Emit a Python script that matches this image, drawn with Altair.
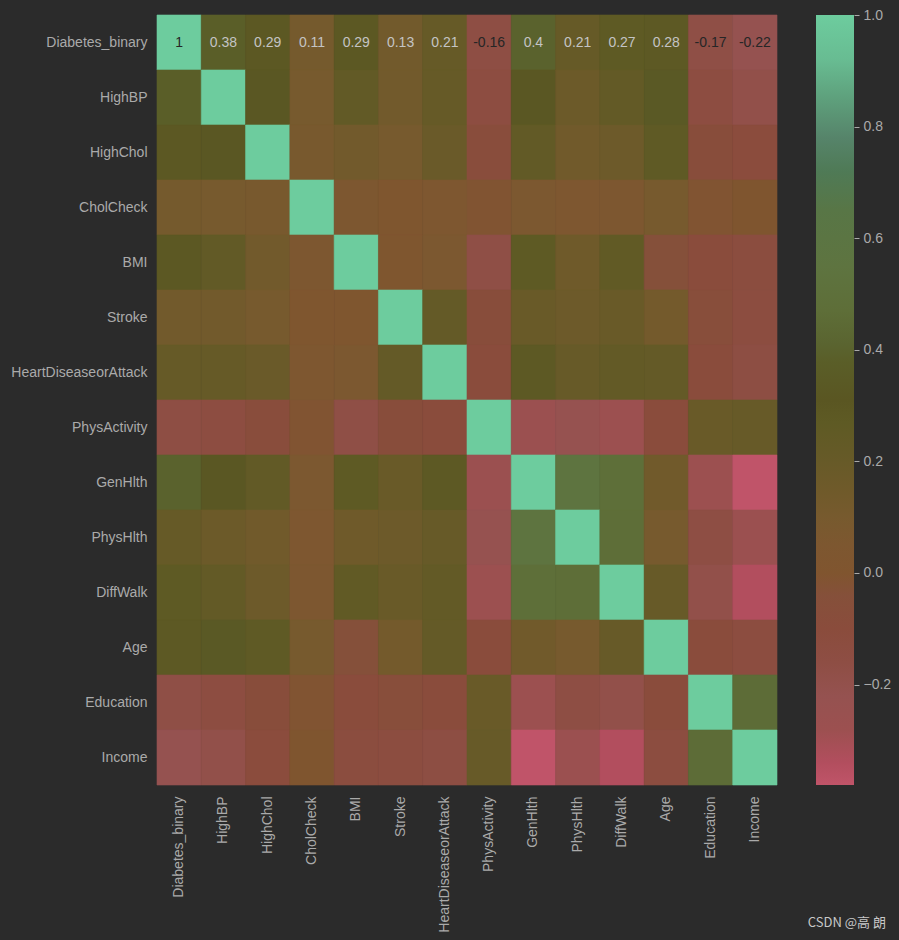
import altair as alt
import pandas as pd

names = ["Diabetes_binary", "HighBP", "HighChol", "CholCheck", "BMI", "Stroke",
         "HeartDiseaseorAttack", "PhysActivity", "GenHlth", "PhysHlth", "DiffWalk",
         "Age", "Education", "Income"]

corr_rows = [
    [1.00, 0.38, 0.29, 0.11, 0.29, 0.13, 0.21, -0.16, 0.40, 0.21, 0.27, 0.28, -0.17, -0.22],
    [0.38, 1.00, 0.32, 0.10, 0.24, 0.13, 0.21, -0.14, 0.32, 0.17, 0.23, 0.34, -0.14, -0.19],
    [0.29, 0.32, 1.00, 0.09, 0.13, 0.10, 0.18, -0.09, 0.24, 0.14, 0.16, 0.26, -0.08, -0.11],
    [0.11, 0.10, 0.09, 1.00, 0.05, 0.02, 0.04, -0.01, 0.06, 0.04, 0.05, 0.10, -0.01, 0.01],
    [0.29, 0.24, 0.13, 0.05, 1.00, 0.02, 0.06, -0.17, 0.27, 0.15, 0.25, -0.04, -0.10, -0.12],
    [0.13, 0.13, 0.10, 0.02, 0.02, 1.00, 0.22, -0.08, 0.19, 0.16, 0.19, 0.12, -0.07, -0.13],
    [0.21, 0.21, 0.18, 0.04, 0.06, 0.22, 1.00, -0.10, 0.28, 0.20, 0.23, 0.22, -0.10, -0.15],
    [-0.16, -0.14, -0.09, -0.01, -0.17, -0.08, -0.10, 1.00, -0.27, -0.23, -0.28, -0.10, 0.19, 0.20],
    [0.40, 0.32, 0.24, 0.06, 0.27, 0.19, 0.28, -0.27, 1.00, 0.55, 0.48, 0.14, -0.28, -0.38],
    [0.21, 0.17, 0.14, 0.04, 0.15, 0.16, 0.20, -0.23, 0.55, 1.00, 0.47, 0.10, -0.16, -0.27],
    [0.27, 0.23, 0.16, 0.05, 0.25, 0.19, 0.23, -0.28, 0.48, 0.47, 1.00, 0.20, -0.19, -0.34],
    [0.28, 0.34, 0.26, 0.10, -0.04, 0.12, 0.22, -0.10, 0.14, 0.10, 0.20, 1.00, -0.10, -0.13],
    [-0.17, -0.14, -0.08, -0.01, -0.10, -0.07, -0.10, 0.19, -0.28, -0.16, -0.19, -0.10, 1.00, 0.46],
    [-0.22, -0.19, -0.11, 0.01, -0.12, -0.13, -0.15, 0.20, -0.38, -0.27, -0.34, -0.13, 0.46, 1.00],
]

# colormap stops (value -> colour), first value replaced by data minimum
stop_values = [None, -0.34, -0.28, -0.22, -0.16, -0.10, -0.04, 0.00, 0.05, 0.10, 0.15,
               0.20, 0.27, 0.31, 0.38, 0.41, 0.47, 0.55, 0.65, 0.72, 0.78, 0.85, 0.92, 1.00]
stop_colors = ["#c05469", "#b24e5e", "#9c5050", "#955250", "#8e4e44", "#8a4c3c", "#85503a",
               "#80552f", "#7d5730", "#775a2e", "#6f5a2a", "#675a28", "#5e5a24", "#5a5622",
               "#5a5e28", "#5a6430", "#5e6e38", "#5e7440", "#587646", "#4f7a56", "#56846a",
               "#5ea07c", "#68bc92", "#6dcc9e"]

cbar_ticks = [-0.2, 0.0, 0.2, 0.4, 0.6, 0.8, 1.0]
watermark = "CSDN @高 朗"

BG = "#2b2b2b"
LABEL = "#aaaaaa"
FONT = "Liberation Sans"

vmin = min(min(r) for r in corr_rows)
vmax = 1.0
stop_values[0] = vmin

records = []
for i, rn in enumerate(names):
    for j, cn in enumerate(names):
        v = corr_rows[i][j]
        records.append({"row": rn, "col": cn, "value": v, "label": f"{v:.2g}"})
df = pd.DataFrame(records)

color_scale = alt.Scale(domain=stop_values, range=stop_colors, interpolate="rgb")

base = alt.Chart(df)
heat = base.mark_rect(strokeWidth=0.6).encode(
    x=alt.X("col:N", sort=names, scale=alt.Scale(paddingInner=0, paddingOuter=0),
            axis=alt.Axis(title=None, labelAngle=-90, ticks=False, domain=False,
                          labelPadding=11, labelColor=LABEL, labelFontSize=14, labelFont=FONT)),
    y=alt.Y("row:N", sort=names, scale=alt.Scale(paddingInner=0, paddingOuter=0),
            axis=alt.Axis(title=None, ticks=False, domain=False, labelPadding=10,
                          labelColor=LABEL, labelFontSize=14, labelFont=FONT)),
    color=alt.Color("value:Q", scale=color_scale, legend=None),
    stroke=alt.Stroke("value:Q", scale=color_scale, legend=None),
)
annot = base.transform_filter(alt.datum.row == names[0]).mark_text(
    fontSize=14, font=FONT
).encode(
    x=alt.X("col:N", sort=names),
    y=alt.Y("row:N", sort=names),
    text="label:N",
    color=alt.condition("datum.value >= 0.9 || datum.value < 0",
                        alt.value("#262626"), alt.value("#c4c4c4")),
)
heatmap = alt.layer(heat, annot).properties(width=620, height=770)

span = vmax - vmin
gradient = alt.Gradient(
    gradient="linear",
    stops=[alt.GradientStop(color=c, offset=(v - vmin) / span)
           for v, c in zip(stop_values, stop_colors)],
    x1=0, x2=0, y1=1, y2=0,
)
cb_df = pd.DataFrame({"lo": [vmin], "hi": [vmax]})
cbar_rect = alt.Chart(cb_df).mark_rect(fill=gradient).encode(
    x=alt.value(0), x2=alt.value(38),
    y=alt.Y("lo:Q", scale=alt.Scale(domain=[vmin, vmax], nice=False, zero=False),
            axis=alt.Axis(orient="right", title=None, values=cbar_ticks, grid=False,
                          domain=False, ticks=True, tickSize=5, tickColor=LABEL,
                          labelPadding=4, labelColor=LABEL, labelFontSize=14,
                          labelFont=FONT,
                          labelExpr="replace(format(datum.value, '.1f'), '-', '\u2212')")),
    y2="hi:Q",
)
wm = alt.Chart(pd.DataFrame({"t": [watermark]})).mark_text(
    align="right", baseline="middle", fontSize=13, color="#c8c8c8",
    font="Noto Sans CJK SC"
).encode(text="t:N", x=alt.value(70), y=alt.value(908))
colorbar = alt.layer(cbar_rect, wm).properties(width=38, height=770)

chart = alt.hconcat(heatmap, colorbar, spacing=39, bounds="flush").properties(
    padding={"left": 2, "top": 0, "right": 0, "bottom": 0},
    background=BG,
).configure_view(stroke=None)

chart.save("out.html", embed_options={"renderer": "svg", "actions": False})

# dark page background around the chart (the 8px body margin)
with open("out.html", encoding="utf-8") as f:
    html = f.read()
html = html.replace("<head>", "<head>\n<style>html, body { background: #2b2b2b; }</style>", 1)
with open("out.html", "w", encoding="utf-8") as f:
    f.write(html)
